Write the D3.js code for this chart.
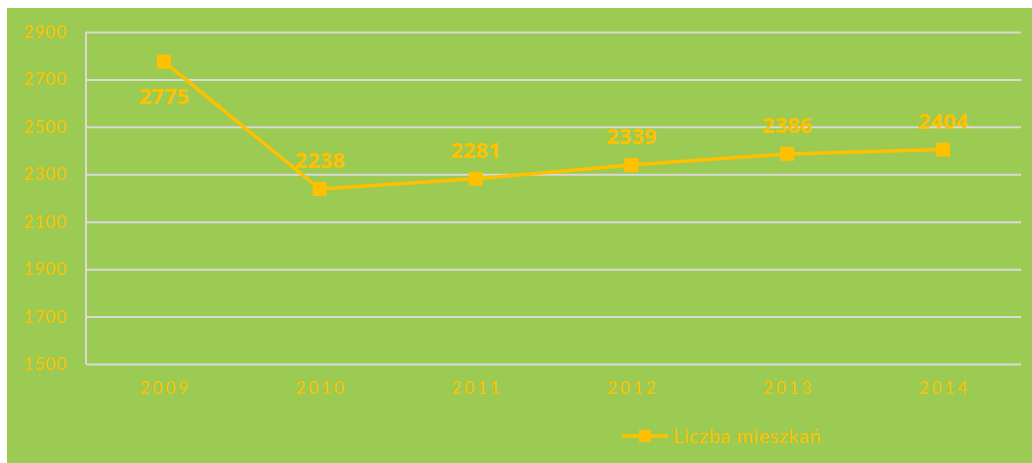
<!DOCTYPE html>
<html>
<head>
<meta charset="utf-8">
<script src="https://cdn.jsdelivr.net/npm/d3@7"></script>
<style>
  body { margin: 0; background: #fff; }
  #chart { display: block; }
  .axis text { font-family: "Lato", "Open Sans", sans-serif; font-weight: 400; }
</style>
</head>
<body>
<svg id="chart" width="1032" height="463"></svg>
<script>
var years = ["2009", "2010", "2011", "2012", "2013", "2014"];
var residents = [2775, 2238, 2281, 2339, 2386, 2404];
var yTicks = [1500, 1700, 1900, 2100, 2300, 2500, 2700, 2900];
var seriesName = "Liczba mieszkań";

var svg = d3.select("#chart"),
    margin = {top: 32, right: 11, bottom: 99, left: 86},
    width = 1032 - margin.left - margin.right,
    height = 463 - margin.top - margin.bottom;

var gold = "#FFC000",
    green = "#9BCB52",
    grid = "#D9D9D9";

// panel background
svg.append("rect")
    .attr("x", 7).attr("y", 8)
    .attr("width", 1032 - 7).attr("height", 463 - 8)
    .attr("fill", green);

var g = svg.append("g").attr("transform", "translate(" + margin.left + "," + margin.top + ")");

var xScale = d3.scaleBand().domain(years).range([0, width]),
    yScale = d3.scaleLinear().domain([1500, 2900]).range([height, 0]);

// y axis with gridlines
var yAxis = g.append("g")
    .attr("class", "axis axis--y")
    .call(d3.axisLeft(yScale).tickValues(yTicks).tickFormat(d3.format("d")).tickSize(-width).tickPadding(19));
yAxis.select(".domain").remove();
yAxis.selectAll(".tick line").attr("stroke", grid).attr("stroke-width", 2);
yAxis.selectAll(".tick text")
    .attr("fill", gold)
    .style("font-size", "17px")
    .style("letter-spacing", "1px");

// left axis line
g.append("line")
    .attr("x1", 0).attr("x2", 0)
    .attr("y1", 0).attr("y2", height)
    .attr("stroke", grid).attr("stroke-width", 2);

// x axis
var xAxis = g.append("g")
    .attr("class", "axis axis--x")
    .attr("transform", "translate(0," + height + ")")
    .call(d3.axisBottom(xScale).tickSize(0).tickPadding(18));
xAxis.select(".domain").remove();
xAxis.selectAll(".tick text")
    .attr("fill", gold)
    .attr("dx", "1.5px")
    .style("font-size", "17px")
    .style("letter-spacing", "3px");

var points = years.map(function(y, i) { return {year: y, value: residents[i]}; });

var line = d3.line()
    .x(function(d) { return xScale(d.year) + xScale.bandwidth() / 2; })
    .y(function(d) { return yScale(d.value); });

g.append("path")
    .datum(points)
    .attr("d", line)
    .attr("fill", "none")
    .attr("stroke", gold)
    .attr("stroke-width", 3.5)
    .attr("stroke-linejoin", "round");

g.selectAll(".point")
    .data(points)
  .enter().append("rect")
    .attr("class", "point")
    .attr("x", function(d) { return xScale(d.year) + xScale.bandwidth() / 2 - 7; })
    .attr("y", function(d) { return yScale(d.value) - 7; })
    .attr("width", 14).attr("height", 14)
    .attr("fill", gold);

// data labels (first one sits below its point)
g.selectAll(".label")
    .data(points)
  .enter().append("text")
    .attr("class", "label")
    .attr("x", function(d) { return xScale(d.year) + xScale.bandwidth() / 2; })
    .attr("y", function(d, i) { return yScale(d.value) + (i === 0 ? 42 : -21); })
    .attr("text-anchor", "middle")
    .attr("fill", gold)
    .style("font-family", "'Open Sans', sans-serif")
    .style("font-weight", "bold")
    .style("font-size", "22px")
    .text(function(d) { return d.value; });

// legend
var legend = svg.append("g").attr("transform", "translate(622,436)");
legend.append("line")
    .attr("x1", 0).attr("x2", 46)
    .attr("stroke", gold).attr("stroke-width", 3.5);
legend.append("rect")
    .attr("x", 17).attr("y", -6)
    .attr("width", 12).attr("height", 12)
    .attr("fill", gold);
legend.append("text")
    .attr("x", 51).attr("y", 7)
    .attr("fill", gold)
    .style("font-family", "'Lato', sans-serif")
    .style("font-weight", 400)
    .style("font-size", "20px")
    .style("letter-spacing", "0.5px")
    .text(seriesName);
</script>
</body>
</html>
